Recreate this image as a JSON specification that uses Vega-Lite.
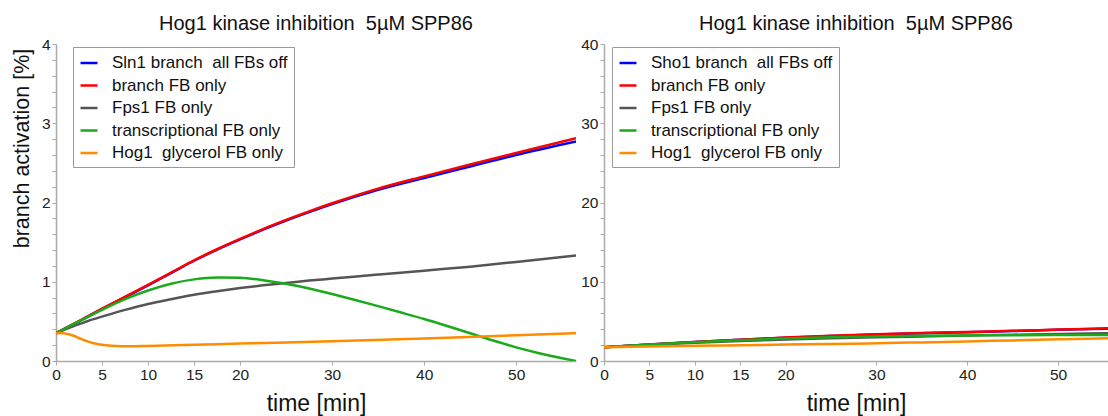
{
  "$schema": "https://vega.github.io/schema/vega-lite/v6.json",
  "padding": {"left": 11, "top": 14, "right": 0, "bottom": 0},
  "spacing": 4,
  "config": {
    "view": {"stroke": null},
    "font": "Liberation Sans",
    "title": {"fontSize": 20, "fontWeight": "normal", "color": "#111", "offset": 3},
    "axis": {"domainColor": "#aaa", "tickColor": "#aaa", "labelColor": "#222", "labelFontSize": 15.5, "titleFontSize": 21.5, "titleFontWeight": "normal", "titleColor": "#111", "grid": false, "tickSize": 4, "labelPadding": 2, "domainWidth": 1.5, "labelFlush": false, "labelOverlap": false},
    "legend": {"orient": "none", "legendY": 3, "strokeColor": "#999", "fillColor": "white", "padding": 6, "labelFontSize": 17, "labelColor": "#111", "symbolType": "stroke", "symbolStrokeWidth": 3, "symbolSize": 289, "rowPadding": 4.5, "labelOffset": 13, "title": null, "labelLimit": 400},
    "line": {"strokeWidth": 2.5, "interpolate": "monotone"}
  },
  "datasets": {
    "left": [
      {"s": "Sln1 branch\u00a0 all FBs off", "t": 0, "v": 0.35},
      {"s": "Sln1 branch\u00a0 all FBs off", "t": 2.5, "v": 0.5},
      {"s": "Sln1 branch\u00a0 all FBs off", "t": 5, "v": 0.655},
      {"s": "Sln1 branch\u00a0 all FBs off", "t": 7.5, "v": 0.805},
      {"s": "Sln1 branch\u00a0 all FBs off", "t": 10, "v": 0.955},
      {"s": "Sln1 branch\u00a0 all FBs off", "t": 12.5, "v": 1.11},
      {"s": "Sln1 branch\u00a0 all FBs off", "t": 15, "v": 1.265},
      {"s": "Sln1 branch\u00a0 all FBs off", "t": 17.5, "v": 1.405},
      {"s": "Sln1 branch\u00a0 all FBs off", "t": 20, "v": 1.535},
      {"s": "Sln1 branch\u00a0 all FBs off", "t": 22.5, "v": 1.658},
      {"s": "Sln1 branch\u00a0 all FBs off", "t": 25, "v": 1.772},
      {"s": "Sln1 branch\u00a0 all FBs off", "t": 27.5, "v": 1.878},
      {"s": "Sln1 branch\u00a0 all FBs off", "t": 30, "v": 1.98},
      {"s": "Sln1 branch\u00a0 all FBs off", "t": 35, "v": 2.16},
      {"s": "Sln1 branch\u00a0 all FBs off", "t": 40, "v": 2.31},
      {"s": "Sln1 branch\u00a0 all FBs off", "t": 45, "v": 2.455},
      {"s": "Sln1 branch\u00a0 all FBs off", "t": 50, "v": 2.6},
      {"s": "Sln1 branch\u00a0 all FBs off", "t": 56.5, "v": 2.77},
      {"s": "branch FB only", "t": 0, "v": 0.35},
      {"s": "branch FB only", "t": 2.5, "v": 0.505},
      {"s": "branch FB only", "t": 5, "v": 0.66},
      {"s": "branch FB only", "t": 7.5, "v": 0.81},
      {"s": "branch FB only", "t": 10, "v": 0.96},
      {"s": "branch FB only", "t": 12.5, "v": 1.115},
      {"s": "branch FB only", "t": 15, "v": 1.27},
      {"s": "branch FB only", "t": 17.5, "v": 1.41},
      {"s": "branch FB only", "t": 20, "v": 1.54},
      {"s": "branch FB only", "t": 22.5, "v": 1.665},
      {"s": "branch FB only", "t": 25, "v": 1.78},
      {"s": "branch FB only", "t": 27.5, "v": 1.888},
      {"s": "branch FB only", "t": 30, "v": 1.99},
      {"s": "branch FB only", "t": 35, "v": 2.175},
      {"s": "branch FB only", "t": 40, "v": 2.33},
      {"s": "branch FB only", "t": 45, "v": 2.48},
      {"s": "branch FB only", "t": 50, "v": 2.625},
      {"s": "branch FB only", "t": 56.5, "v": 2.81},
      {"s": "Fps1 FB only", "t": 0, "v": 0.35},
      {"s": "Fps1 FB only", "t": 1, "v": 0.4},
      {"s": "Fps1 FB only", "t": 2, "v": 0.445},
      {"s": "Fps1 FB only", "t": 3, "v": 0.485},
      {"s": "Fps1 FB only", "t": 4, "v": 0.525},
      {"s": "Fps1 FB only", "t": 5, "v": 0.56},
      {"s": "Fps1 FB only", "t": 7.5, "v": 0.645},
      {"s": "Fps1 FB only", "t": 10, "v": 0.72},
      {"s": "Fps1 FB only", "t": 12.5, "v": 0.78},
      {"s": "Fps1 FB only", "t": 15, "v": 0.835},
      {"s": "Fps1 FB only", "t": 17.5, "v": 0.88},
      {"s": "Fps1 FB only", "t": 20, "v": 0.92},
      {"s": "Fps1 FB only", "t": 22.5, "v": 0.955},
      {"s": "Fps1 FB only", "t": 25, "v": 0.985},
      {"s": "Fps1 FB only", "t": 27.5, "v": 1.015},
      {"s": "Fps1 FB only", "t": 30, "v": 1.04},
      {"s": "Fps1 FB only", "t": 35, "v": 1.09},
      {"s": "Fps1 FB only", "t": 40, "v": 1.14},
      {"s": "Fps1 FB only", "t": 45, "v": 1.19},
      {"s": "Fps1 FB only", "t": 50, "v": 1.25},
      {"s": "Fps1 FB only", "t": 56.5, "v": 1.33},
      {"s": "transcriptional FB only", "t": 0, "v": 0.35},
      {"s": "transcriptional FB only", "t": 2.5, "v": 0.5},
      {"s": "transcriptional FB only", "t": 5, "v": 0.645},
      {"s": "transcriptional FB only", "t": 7.5, "v": 0.78},
      {"s": "transcriptional FB only", "t": 10, "v": 0.89},
      {"s": "transcriptional FB only", "t": 12.5, "v": 0.975},
      {"s": "transcriptional FB only", "t": 15, "v": 1.03},
      {"s": "transcriptional FB only", "t": 17.5, "v": 1.055},
      {"s": "transcriptional FB only", "t": 20, "v": 1.05},
      {"s": "transcriptional FB only", "t": 22.5, "v": 1.02},
      {"s": "transcriptional FB only", "t": 25, "v": 0.975},
      {"s": "transcriptional FB only", "t": 27.5, "v": 0.915},
      {"s": "transcriptional FB only", "t": 30, "v": 0.845},
      {"s": "transcriptional FB only", "t": 32.5, "v": 0.77},
      {"s": "transcriptional FB only", "t": 35, "v": 0.692},
      {"s": "transcriptional FB only", "t": 37.5, "v": 0.612},
      {"s": "transcriptional FB only", "t": 40, "v": 0.53},
      {"s": "transcriptional FB only", "t": 42.5, "v": 0.442},
      {"s": "transcriptional FB only", "t": 45, "v": 0.35},
      {"s": "transcriptional FB only", "t": 47.5, "v": 0.258},
      {"s": "transcriptional FB only", "t": 50, "v": 0.172},
      {"s": "transcriptional FB only", "t": 52.5, "v": 0.098},
      {"s": "transcriptional FB only", "t": 55, "v": 0.035},
      {"s": "transcriptional FB only", "t": 56.5, "v": 0.0},
      {"s": "Hog1\u00a0 glycerol FB only", "t": 0, "v": 0.35},
      {"s": "Hog1\u00a0 glycerol FB only", "t": 0.5, "v": 0.352},
      {"s": "Hog1\u00a0 glycerol FB only", "t": 1, "v": 0.348},
      {"s": "Hog1\u00a0 glycerol FB only", "t": 1.5, "v": 0.335},
      {"s": "Hog1\u00a0 glycerol FB only", "t": 2, "v": 0.315},
      {"s": "Hog1\u00a0 glycerol FB only", "t": 2.5, "v": 0.29},
      {"s": "Hog1\u00a0 glycerol FB only", "t": 3, "v": 0.265},
      {"s": "Hog1\u00a0 glycerol FB only", "t": 3.5, "v": 0.245},
      {"s": "Hog1\u00a0 glycerol FB only", "t": 4, "v": 0.228},
      {"s": "Hog1\u00a0 glycerol FB only", "t": 4.5, "v": 0.215},
      {"s": "Hog1\u00a0 glycerol FB only", "t": 5, "v": 0.205},
      {"s": "Hog1\u00a0 glycerol FB only", "t": 6, "v": 0.192},
      {"s": "Hog1\u00a0 glycerol FB only", "t": 7, "v": 0.186},
      {"s": "Hog1\u00a0 glycerol FB only", "t": 8, "v": 0.185},
      {"s": "Hog1\u00a0 glycerol FB only", "t": 10, "v": 0.19},
      {"s": "Hog1\u00a0 glycerol FB only", "t": 15, "v": 0.205},
      {"s": "Hog1\u00a0 glycerol FB only", "t": 20, "v": 0.22},
      {"s": "Hog1\u00a0 glycerol FB only", "t": 25, "v": 0.235},
      {"s": "Hog1\u00a0 glycerol FB only", "t": 30, "v": 0.25},
      {"s": "Hog1\u00a0 glycerol FB only", "t": 40, "v": 0.285},
      {"s": "Hog1\u00a0 glycerol FB only", "t": 50, "v": 0.325},
      {"s": "Hog1\u00a0 glycerol FB only", "t": 56.5, "v": 0.35}
    ],
    "right": [
      {"s": "Sho1 branch\u00a0 all FBs off", "t": 0, "v": 1.73},
      {"s": "Sho1 branch\u00a0 all FBs off", "t": 5, "v": 2.08},
      {"s": "Sho1 branch\u00a0 all FBs off", "t": 10, "v": 2.4},
      {"s": "Sho1 branch\u00a0 all FBs off", "t": 15, "v": 2.68},
      {"s": "Sho1 branch\u00a0 all FBs off", "t": 20, "v": 2.93},
      {"s": "Sho1 branch\u00a0 all FBs off", "t": 25, "v": 3.15},
      {"s": "Sho1 branch\u00a0 all FBs off", "t": 30, "v": 3.34},
      {"s": "Sho1 branch\u00a0 all FBs off", "t": 35, "v": 3.5},
      {"s": "Sho1 branch\u00a0 all FBs off", "t": 40, "v": 3.64},
      {"s": "Sho1 branch\u00a0 all FBs off", "t": 45, "v": 3.78},
      {"s": "Sho1 branch\u00a0 all FBs off", "t": 50, "v": 3.93},
      {"s": "Sho1 branch\u00a0 all FBs off", "t": 55.5, "v": 4.08},
      {"s": "branch FB only", "t": 0, "v": 1.73},
      {"s": "branch FB only", "t": 5, "v": 2.09},
      {"s": "branch FB only", "t": 10, "v": 2.41},
      {"s": "branch FB only", "t": 15, "v": 2.69},
      {"s": "branch FB only", "t": 20, "v": 2.95},
      {"s": "branch FB only", "t": 25, "v": 3.18},
      {"s": "branch FB only", "t": 30, "v": 3.37},
      {"s": "branch FB only", "t": 35, "v": 3.53},
      {"s": "branch FB only", "t": 40, "v": 3.67},
      {"s": "branch FB only", "t": 45, "v": 3.81},
      {"s": "branch FB only", "t": 50, "v": 3.96},
      {"s": "branch FB only", "t": 55.5, "v": 4.12},
      {"s": "Fps1 FB only", "t": 0, "v": 1.73},
      {"s": "Fps1 FB only", "t": 5, "v": 2.04},
      {"s": "Fps1 FB only", "t": 10, "v": 2.3},
      {"s": "Fps1 FB only", "t": 15, "v": 2.52},
      {"s": "Fps1 FB only", "t": 20, "v": 2.7},
      {"s": "Fps1 FB only", "t": 25, "v": 2.86},
      {"s": "Fps1 FB only", "t": 30, "v": 2.99},
      {"s": "Fps1 FB only", "t": 35, "v": 3.1},
      {"s": "Fps1 FB only", "t": 40, "v": 3.22},
      {"s": "Fps1 FB only", "t": 45, "v": 3.32},
      {"s": "Fps1 FB only", "t": 50, "v": 3.41},
      {"s": "Fps1 FB only", "t": 55.5, "v": 3.49},
      {"s": "transcriptional FB only", "t": 0, "v": 1.73},
      {"s": "transcriptional FB only", "t": 5, "v": 2.07},
      {"s": "transcriptional FB only", "t": 10, "v": 2.37},
      {"s": "transcriptional FB only", "t": 15, "v": 2.62},
      {"s": "transcriptional FB only", "t": 20, "v": 2.83},
      {"s": "transcriptional FB only", "t": 25, "v": 2.99},
      {"s": "transcriptional FB only", "t": 30, "v": 3.1},
      {"s": "transcriptional FB only", "t": 35, "v": 3.18},
      {"s": "transcriptional FB only", "t": 40, "v": 3.23},
      {"s": "transcriptional FB only", "t": 45, "v": 3.26},
      {"s": "transcriptional FB only", "t": 50, "v": 3.27},
      {"s": "transcriptional FB only", "t": 55.5, "v": 3.28},
      {"s": "Hog1\u00a0 glycerol FB only", "t": 0, "v": 1.73},
      {"s": "Hog1\u00a0 glycerol FB only", "t": 5, "v": 1.82},
      {"s": "Hog1\u00a0 glycerol FB only", "t": 10, "v": 1.91},
      {"s": "Hog1\u00a0 glycerol FB only", "t": 15, "v": 1.99},
      {"s": "Hog1\u00a0 glycerol FB only", "t": 20, "v": 2.07},
      {"s": "Hog1\u00a0 glycerol FB only", "t": 25, "v": 2.14},
      {"s": "Hog1\u00a0 glycerol FB only", "t": 30, "v": 2.24},
      {"s": "Hog1\u00a0 glycerol FB only", "t": 35, "v": 2.35},
      {"s": "Hog1\u00a0 glycerol FB only", "t": 40, "v": 2.47},
      {"s": "Hog1\u00a0 glycerol FB only", "t": 45, "v": 2.6},
      {"s": "Hog1\u00a0 glycerol FB only", "t": 50, "v": 2.73},
      {"s": "Hog1\u00a0 glycerol FB only", "t": 55.5, "v": 2.86}
    ]
  },
  "hconcat": [
    {
      "width": 520,
      "height": 317,
      "title": "Hog1 kinase inhibition\u00a0 5µM SPP86",
      "data": {"name": "left"},
      "mark": {"type": "line", "clip": true},
      "encoding": {
        "x": {"field": "t", "type": "quantitative", "title": "time [min]", "scale": {"domain": [0, 56.5], "nice": false}, "axis": {"values": [0, 5, 10, 15, 20, 30, 40, 50], "format": "d", "titlePadding": 10, "titleFontSize": 23}},
        "y": {"field": "v", "type": "quantitative", "title": "branch activation [%]", "scale": {"domain": [0, 4], "nice": false}, "axis": {"values": [0, 0.2, 0.4, 0.6, 0.8, 1, 1.2, 1.4, 1.6, 1.8, 2, 2.2, 2.4, 2.6, 2.8, 3, 3.2, 3.4, 3.6, 3.8, 4], "labelExpr": "datum.value % 1 === 0 ? format(datum.value, 'd') : ''", "titlePadding": 8, "titleY": 104}},
        "color": {"field": "s", "type": "nominal", "sort": null, "scale": {"domain": ["Sln1 branch\u00a0 all FBs off", "branch FB only", "Fps1 FB only", "transcriptional FB only", "Hog1\u00a0 glycerol FB only"], "range": ["#0000ff", "#ff0000", "#555555", "#1aaa1a", "#ff8c00"]}, "legend": {"legendX": 17}}
      }
    },
    {
      "width": 504,
      "height": 317,
      "title": "Hog1 kinase inhibition\u00a0 5µM SPP86",
      "data": {"name": "right"},
      "mark": {"type": "line", "clip": true},
      "encoding": {
        "x": {"field": "t", "type": "quantitative", "title": "time [min]", "scale": {"domain": [0, 55.5], "nice": false}, "axis": {"values": [0, 5, 10, 15, 20, 30, 40, 50], "format": "d", "titlePadding": 10, "titleFontSize": 23}},
        "y": {"field": "v", "type": "quantitative", "title": null, "scale": {"domain": [0, 40], "nice": false}, "axis": {"values": [0, 2, 4, 6, 8, 10, 12, 14, 16, 18, 20, 22, 24, 26, 28, 30, 32, 34, 36, 38, 40], "labelExpr": "datum.value % 10 === 0 ? format(datum.value, 'd') : ''"}},
        "color": {"field": "s", "type": "nominal", "sort": null, "scale": {"domain": ["Sho1 branch\u00a0 all FBs off", "branch FB only", "Fps1 FB only", "transcriptional FB only", "Hog1\u00a0 glycerol FB only"], "range": ["#0000ff", "#ff0000", "#555555", "#1aaa1a", "#ff8c00"]}, "legend": {"legendX": 8}}
      }
    }
  ],
  "resolve": {"scale": {"color": "independent"}, "legend": {"color": "independent"}}
}
